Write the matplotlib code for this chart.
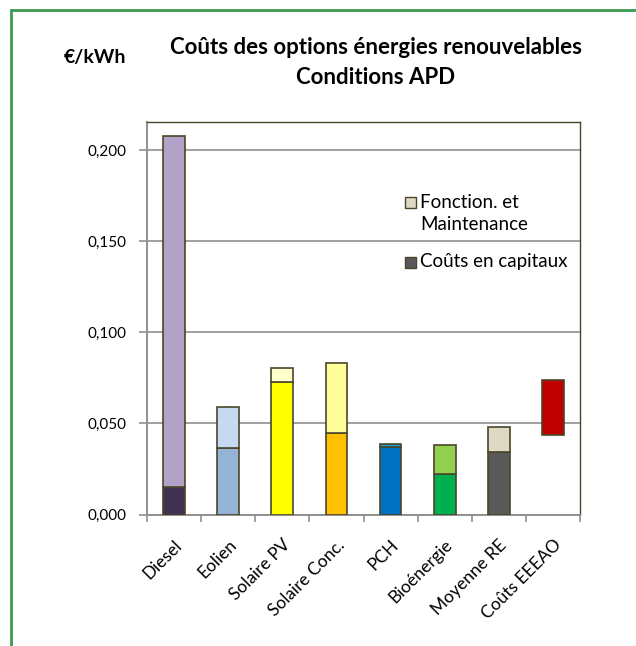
import matplotlib.pyplot as plt
from matplotlib.patches import Rectangle
from matplotlib.ticker import FuncFormatter, FixedLocator
from matplotlib.transforms import ScaledTranslation

plt.rcParams['font.family'] = ['Lato', 'DejaVu Sans']

categories = ['Diesel', 'Eolien', 'Solaire PV', 'Solaire Conc.', 'PCH',
              'Bioénergie', 'Moyenne RE', 'Coûts EEEAO']
# €/kWh, capital part and operation & maintenance part stacked on top
capital = [0.0151, 0.0366, 0.0725, 0.0445, 0.0368, 0.0221, 0.0344, 0.0436]
om = [0.1926, 0.0225, 0.0077, 0.0388, 0.0018, 0.0158, 0.0136, 0.0302]

capital_colors = ['#403151', '#95B3D7', '#FFFF00', '#FFC000', '#0070C0',
                  '#00B050', '#595959', 'none']
om_colors = ['#B3A2C7', '#C6D9F1', '#FFFFCC', '#FFFF99', '#1F9ED6',
             '#92D050', '#DDD9C3', '#C00000']
legend_labels = [('Fonction. et\nMaintenance', '#DDD9C3'),
                 ('Coûts en capitaux', '#595959')]
edge = '#4A452A'

W, H = 636, 646
fig = plt.figure(figsize=(W/100, H/100), dpi=100)
ax = fig.add_axes([147/W, 1 - 514.5/H, 433/W, 392.5/H])

x = range(len(categories))
ax.bar(x, capital, width=0.4, color=capital_colors,
       edgecolor=[edge]*7 + ['none'], linewidth=1.2, zorder=3)
ax.bar(x, om, width=0.4, bottom=capital, color=om_colors,
       edgecolor=edge, linewidth=1.2, zorder=3)

ax.set_xlim(-0.5, len(categories) - 0.5)
ax.set_ylim(0, 0.2155)
ax.set_yticks([0, 0.05, 0.10, 0.15, 0.20])
ax.yaxis.set_major_formatter(FuncFormatter(lambda v, p: f'{v:.3f}'.replace('.', ',')))
ax.grid(axis='y', color='#A0A0A0', linewidth=1.4, zorder=0)

ax.set_xticks(list(x))
ax.set_xticklabels(categories, rotation=45, ha='right', rotation_mode='anchor')
shift = ScaledTranslation(-7/100, 0, fig.dpi_scale_trans)
for lab in ax.get_xticklabels():
    lab.set_transform(lab.get_transform() + shift)
ax.xaxis.set_minor_locator(FixedLocator([i - 0.5 for i in range(len(categories) + 1)]))
ax.tick_params(axis='x', which='major', length=0, pad=16, labelsize=12.5)
ax.tick_params(axis='x', which='minor', length=5, width=1.2, color='#909090')
ax.tick_params(axis='y', length=6, width=1.2, color='#909090', pad=9, labelsize=11)

for side in ['left', 'bottom']:
    ax.spines[side].set_color('#909090')
    ax.spines[side].set_linewidth(1.4)
for side in ['top', 'right']:
    ax.spines[side].set_color(edge)
    ax.spines[side].set_linewidth(1.0)

# legend keys drawn by hand: square sits beside the first line of its label
for (label, col), y in zip(legend_labels, [202, 262]):
    fig.patches.append(Rectangle((405/W, 1 - (y + 6)/H), 11/W, 11/H,
                                 transform=fig.transFigure, facecolor=col,
                                 edgecolor=edge, linewidth=1.0))
    for k, line in enumerate(label.split('\n')):
        fig.text(420/W, 1 - (y + 23*k)/H, line, ha='left', va='center',
                 fontsize=13.5)

fig.text(376/W, 1 - 47/H, 'Coûts des options énergies renouvelables',
         ha='center', va='center', fontsize=16, fontweight='bold')
fig.text(376/W, 1 - 77/H, 'Conditions APD',
         ha='center', va='center', fontsize=16, fontweight='bold')
fig.text(95/W, 1 - 57/H, '€/kWh', ha='center', va='center',
         fontsize=14, fontweight='bold')

# green outer frame running off the right and bottom edges
fig.patches.append(Rectangle((11/W, -0.05), 1.0, 1 - 10/H + 0.05,
                             transform=fig.transFigure, fill=False,
                             edgecolor='#3A9A4E', linewidth=2))

fig.savefig('out.png', dpi=100)
